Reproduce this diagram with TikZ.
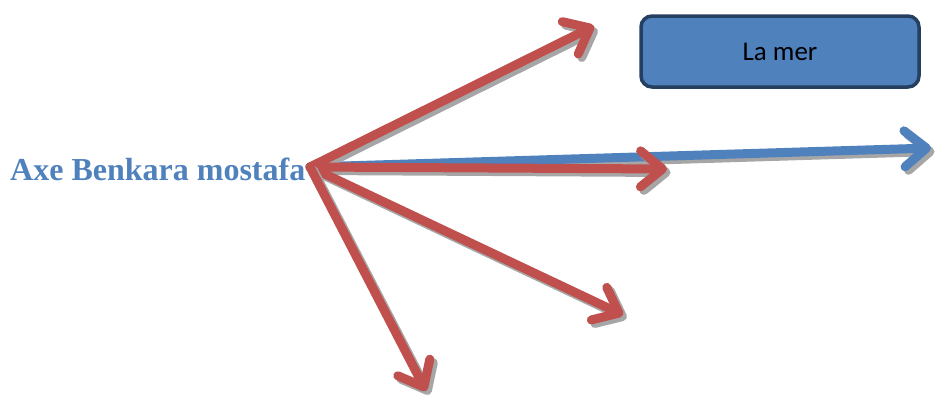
\documentclass[tikz,border=0pt]{standalone}
\usepackage{fontspec}
\setmainfont{Liberation Serif}
\newfontfamily\carlito{Carlito}
\usetikzlibrary{arrows.meta}
\definecolor{ared}{HTML}{C0504D}
\definecolor{ablue}{HTML}{4F81BD}
\definecolor{anavy}{HTML}{243F60}
\definecolor{ashadow}{HTML}{A6A6A6}
\tikzset{
  fat/.style={line width=9pt, line cap=round, line join=round,
    -{Straight Barb[length=22pt,width=36pt,line cap=round,line join=round]}},
  redarrow/.style={fat, draw=ared},
  bluearrow/.style={fat, draw=ablue},
  shadowarrow/.style={fat, draw=ashadow, transform canvas={shift={(3.5pt,-3.5pt)}}},
  seabox/.style={draw=anavy, line width=3.5pt, fill=ablue, rounded corners=11pt,
    minimum width=278pt, minimum height=71pt, inner sep=0pt,
    font=\carlito\fontsize{27}{30}\selectfont},
  axelabel/.style={text=ablue, font=\bfseries\fontsize{32}{36}\selectfont, inner sep=0pt, anchor=base west}
}
\begin{document}
\begin{tikzpicture}[x=1pt,y=-1pt]
\useasboundingbox (0,0) rectangle (938,399);
\node[axelabel] (label) at (10,180) {Axe Benkara mostafa};
\node[seabox] (sea) at (780,51.5) {La mer};
\coordinate (o) at (310,167);
\coordinate (t1) at (594,26);
\coordinate (t2) at (667,169);
\coordinate (t3) at (931,148);
\coordinate (t4) at (623,315);
\coordinate (t5) at (426,391);
\draw[shadowarrow] (o) -- (t3);
\draw[bluearrow] (o) -- (t3);
\draw[shadowarrow] (o) -- (t1);
\draw[redarrow] (o) -- (t1);
\draw[shadowarrow] (o) -- (t2);
\draw[redarrow] (o) -- (t2);
\draw[shadowarrow] (o) -- (t4);
\draw[redarrow] (o) -- (t4);
\draw[shadowarrow] (o) -- (t5);
\draw[redarrow] (o) -- (t5);
\end{tikzpicture}
\end{document}
